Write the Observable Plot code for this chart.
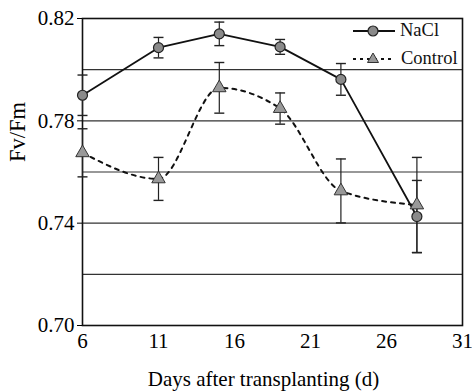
<!DOCTYPE html>
<html>
<head>
<meta charset="utf-8">
<script src="https://cdn.jsdelivr.net/npm/d3@7"></script>
<script src="https://cdn.jsdelivr.net/npm/@observablehq/plot@0.6"></script>
<style>
  html, body { margin: 0; padding: 0; background: #fff; }
  #wrap { position: relative; width: 472px; height: 392px; font-family: "Liberation Serif", "DejaVu Serif", serif; }
  #legend { position: absolute; left: 0; top: 0; width: 472px; height: 80px; font-size: 18.5px; color: #111; pointer-events: none; }
  #legend svg { position: absolute; display: block; }
  #legend span { position: absolute; line-height: 1; white-space: nowrap; }
</style>
</head>
<body>
<div id="wrap"><div id="legend"></div></div>
<script>
const days = [6, 11, 15, 19, 23, 28];
const naclMean = [0.790, 0.8086, 0.8140, 0.8089, 0.7962, 0.7426];
const naclErr = [0.0079, 0.0040, 0.0046, 0.0029, 0.0062, 0.0141];
const controlMean = [0.7675, 0.7573, 0.7929, 0.7848, 0.7526, 0.7471];
const controlErr = [0.0094, 0.0084, 0.0099, 0.0061, 0.0125, 0.0186];
const xTicks = [6, 11, 16, 21, 26, 31];
const yTicks = [0.70, 0.74, 0.78, 0.82];
const gridLines = [0.72, 0.74, 0.76, 0.78, 0.80];
const seriesNames = ["NaCl", "Control"];
const xLabel = "Days after transplanting (d)";
const yLabel = "Fv/Fm";

const nacl = days.map((d, i) => ({day: d, v: naclMean[i], e: naclErr[i]}));
const control = days.map((d, i) => ({day: d, v: controlMean[i], e: controlErr[i]}));

const cap = {draw(ctx, size) { const r = 5; ctx.moveTo(-r, 0); ctx.lineTo(r, 0); }};

function errorMarks(data) {
  return [
    Plot.ruleX(data, {x: "day", y1: d => d.v - d.e, y2: d => d.v + d.e, stroke: "#222", strokeWidth: 1.2}),
    Plot.dot(data, {x: "day", y: d => d.v + d.e, symbol: cap, stroke: "#222", strokeWidth: 1.4, r: 5}),
    Plot.dot(data, {x: "day", y: d => d.v - d.e, symbol: cap, stroke: "#222", strokeWidth: 1.4, r: 5})
  ];
}

const chart = Plot.plot({
  width: 472,
  height: 392,
  marginLeft: 82,
  marginRight: 10,
  marginTop: 18,
  marginBottom: 67,
  style: {fontFamily: "'Liberation Serif', serif", fontSize: "21px", color: "black", background: "#fff"},
  x: {domain: [6, 31]},
  y: {domain: [0.70, 0.82]},
  marks: [
    Plot.ruleY(gridLines, {stroke: "#333", strokeWidth: 1.1}),
    Plot.frame({stroke: "#111", strokeWidth: 1.6}),
    Plot.axisX({ticks: xTicks, tickSize: 0, tickPadding: 8, fontSize: 21, label: null}),
    Plot.axisY({ticks: yTicks, tickFormat: d3.format(".2f"), tickSize: 5, tickPadding: 3, fontSize: 21, label: null}),
    Plot.text([xLabel], {frameAnchor: "bottom", text: d => d, dx: -9, dy: 54, lineAnchor: "middle", fontSize: 21, fill: "black"}),
    Plot.text([yLabel], {frameAnchor: "left", text: d => d, rotate: -90, dx: -65, dy: -10, lineAnchor: "middle", fontSize: 22.5, fill: "black"}),
    ...errorMarks(control),
    ...errorMarks(nacl),
    Plot.line(control, {x: "day", y: "v", stroke: "#111", strokeWidth: 2, strokeDasharray: "4,5", curve: "monotone-x"}),
    Plot.line(nacl, {x: "day", y: "v", stroke: "#111", strokeWidth: 1.8}),
    Plot.dot(control, {x: "day", y: "v", symbol: "triangle", r: 5, fill: "#999", stroke: "#333", strokeWidth: 1}),
    Plot.dot(nacl, {x: "day", y: "v", r: 5, fill: "#8a8a8a", stroke: "#222", strokeWidth: 1.2})
  ]
});
document.getElementById("wrap").prepend(chart);

const legend = document.getElementById("legend");
legend.innerHTML = `
  <svg width="46" height="14" style="left:351px;top:24px"><line x1="2" y1="7" x2="44" y2="7" stroke="#111" stroke-width="1.8"/><circle cx="22" cy="7" r="5" fill="#8a8a8a" stroke="#222" stroke-width="1.2"/></svg>
  <span style="left:400px;top:21px">${seriesNames[0]}</span>
  <svg width="46" height="14" style="left:351px;top:51px"><line x1="2" y1="8" x2="44" y2="8" stroke="#111" stroke-width="2" stroke-dasharray="3,4"/><path d="M22,2 L27.5,11.5 L16.5,11.5 Z" fill="#999" stroke="#333" stroke-width="1"/></svg>
  <span style="left:401px;top:49px">${seriesNames[1]}</span>`;
</script>
</body>
</html>
